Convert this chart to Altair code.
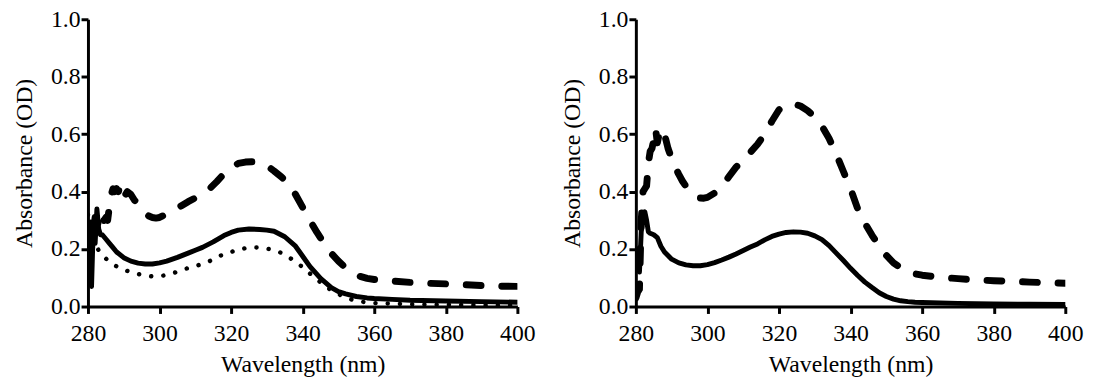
import altair as alt
import pandas as pd

# ---------------- data ----------------
# Left panel
L_solid_wl = [280, 280.5, 281, 281.3, 281.7, 282, 282.5, 283, 283.5, 284, 285, 286, 287, 288, 290,
              292, 294, 296, 298, 300, 302, 305, 308, 310, 312, 315, 318, 320, 322, 325, 328, 330,
              332, 335, 338, 340, 342, 345, 348, 350, 352, 355, 358, 360, 365, 370, 380, 390, 400]
L_solid_ab = [0.25, 0.27, 0.07, 0.2, 0.28, 0.22, 0.34, 0.27, 0.25, 0.25, 0.235, 0.22, 0.205, 0.19, 0.17,
              0.158, 0.151, 0.148, 0.148, 0.152, 0.158, 0.171, 0.186, 0.196, 0.206, 0.225, 0.247, 0.258,
              0.266, 0.270, 0.268, 0.266, 0.262, 0.243, 0.21, 0.175, 0.14, 0.098, 0.066, 0.052, 0.044,
              0.035, 0.03, 0.028, 0.025, 0.022, 0.019, 0.017, 0.015]

L_dot_wl = [280, 280.5, 281, 282, 283, 284, 285, 286, 288, 290, 292, 294, 296, 298, 300, 302, 304, 306,
            308, 310, 312, 314, 316, 318, 320, 322, 324, 326, 328, 330, 332, 334, 336, 338, 340, 342,
            344, 346, 348, 350, 352, 354, 356, 358, 360, 370, 380, 390, 400]
L_dot_ab = [0.32, 0.29, 0.26, 0.22, 0.195, 0.18, 0.167, 0.155, 0.14, 0.128, 0.12, 0.113, 0.108, 0.105,
            0.105, 0.11, 0.117, 0.126, 0.134, 0.141, 0.148, 0.158, 0.172, 0.182, 0.19, 0.198, 0.203,
            0.206, 0.205, 0.202, 0.196, 0.187, 0.173, 0.156, 0.137, 0.115, 0.094, 0.074, 0.057, 0.043,
            0.032, 0.023, 0.018, 0.014, 0.012, 0.008, 0.006, 0.005, 0.005]

L_dash_wl = [280, 280.5, 281, 281.5, 282, 282.5, 283, 283.5, 284, 284.5, 285, 285.5, 286, 286.5, 287,
             287.5, 288, 288.5, 289, 289.5, 290, 290.5, 291, 292, 293, 294, 295, 296, 297, 298, 299,
             300, 302, 304, 306, 308, 310, 312, 314, 316, 318, 320, 322, 324, 326, 328, 330, 332, 334,
             336, 338, 340, 342, 344, 346, 348, 350, 352, 354, 356, 358, 360, 365, 370, 375, 380, 385,
             390, 395, 400]
L_dash_ab = [0.24, 0.27, 0.3, 0.26, 0.31, 0.3, 0.28, 0.3, 0.32, 0.3, 0.31, 0.3, 0.35, 0.39, 0.41, 0.4,
             0.41, 0.4, 0.42, 0.43, 0.41, 0.39, 0.40, 0.39, 0.37, 0.36, 0.34, 0.325, 0.315, 0.31, 0.308,
             0.31, 0.322, 0.335, 0.35, 0.365, 0.378, 0.392, 0.41, 0.435, 0.462, 0.485, 0.498, 0.503,
             0.504, 0.498, 0.49, 0.472, 0.452, 0.428, 0.39, 0.345, 0.3, 0.258, 0.22, 0.185, 0.158,
             0.135, 0.117, 0.105, 0.098, 0.094, 0.089, 0.084, 0.081, 0.079, 0.076, 0.073, 0.071, 0.07]

# Right panel
R_solid_wl = [280, 280.5, 281, 281.5, 282, 282.5, 283, 283.5, 284, 285, 286, 287, 288, 290, 292, 294,
              296, 298, 300, 302, 304, 306, 308, 310, 312, 314, 316, 318, 320, 322, 324, 326, 328, 330,
              332, 334, 336, 338, 340, 342, 344, 346, 348, 350, 352, 354, 356, 358, 360, 370, 380, 390, 400]
R_solid_ab = [0.13, 0.2, 0.12, 0.26, 0.31, 0.33, 0.3, 0.26, 0.255, 0.25, 0.24, 0.21, 0.19, 0.165,
              0.152, 0.145, 0.142, 0.142, 0.146, 0.153, 0.162, 0.172, 0.183, 0.195, 0.207, 0.218, 0.232,
              0.244, 0.252, 0.258, 0.26, 0.259, 0.255, 0.246, 0.233, 0.212, 0.186, 0.16, 0.133, 0.108,
              0.085, 0.066, 0.048, 0.035, 0.026, 0.02, 0.017, 0.015, 0.014, 0.011, 0.009, 0.008, 0.007]

R_dash_wl = [280, 280.5, 281, 281.5, 282, 282.5, 283, 283.5, 284, 284.5, 285, 285.5, 286, 286.5, 287,
             287.5, 288, 289, 290, 291, 292, 293, 294, 295, 296, 297, 298, 299, 300, 302, 304, 306,
             308, 310, 312, 314, 316, 318, 320, 322, 324, 326, 328, 330, 332, 334, 336, 338, 340, 342,
             344, 346, 348, 350, 352, 354, 356, 358, 360, 365, 370, 375, 380, 385, 390, 395, 400]
R_dash_ab = [0.03, 0.05, 0.06, 0.3, 0.4, 0.41, 0.42, 0.5, 0.54, 0.55, 0.58, 0.62, 0.57, 0.6, 0.62, 0.61,
             0.6, 0.55, 0.515, 0.485, 0.46, 0.437, 0.418, 0.402, 0.39, 0.382, 0.378, 0.377, 0.38, 0.395,
             0.42, 0.452, 0.485, 0.512, 0.537, 0.565, 0.6, 0.645, 0.685, 0.702, 0.706, 0.698, 0.682,
             0.66, 0.628, 0.585, 0.53, 0.47, 0.41, 0.34, 0.29, 0.248, 0.21, 0.178, 0.152, 0.135, 0.122,
             0.114, 0.109, 0.102, 0.097, 0.093, 0.09, 0.088, 0.085, 0.083, 0.081]

x_ticks = [280, 300, 320, 340, 360, 380, 400]
y_ticks = [0.0, 0.2, 0.4, 0.6, 0.8, 1.0]

FONT = "Liberation Serif"
W, H = 435, 291


def frame(wl, ab):
    return pd.DataFrame({"wl": wl, "ab": ab})


def enc():
    return dict(
        x=alt.X("wl:Q", scale=alt.Scale(domain=[280, 400], nice=False, zero=False),
                axis=alt.Axis(values=x_ticks, title="Wavelength (nm)", format="d", labelFlush=False,
                              labelFont=FONT, titleFont=FONT, labelPadding=8, titlePadding=8)),
        y=alt.Y("ab:Q", scale=alt.Scale(domain=[0, 1], nice=False),
                axis=alt.Axis(values=y_ticks, title="Absorbance (OD)", format=".1f", labelFlush=False,
                              labelFont=FONT, titleFont=FONT, labelPadding=1, titlePadding=14)),
        order="wl:Q",
    )


def solid(df):
    return alt.Chart(df).mark_line(color="black", strokeWidth=5, strokeJoin="round",
                                   strokeCap="round", clip=True).encode(**enc())


def dashed(df):
    return alt.Chart(df).mark_line(color="black", strokeWidth=7, strokeCap="round",
                                   strokeJoin="round", strokeDash=[15, 21], clip=True).encode(**enc())


def dotted(df):
    return alt.Chart(df).mark_line(color="black", strokeWidth=4.5, strokeCap="round",
                                   strokeDash=[0.1, 12.3], clip=True).encode(**enc())


left = alt.layer(
    dotted(frame(L_dot_wl, L_dot_ab)),
    solid(frame(L_solid_wl, L_solid_ab)),
    dashed(frame(L_dash_wl, L_dash_ab)),
).properties(width=W, height=H)

right = alt.layer(
    solid(frame(R_solid_wl, R_solid_ab)),
    dashed(frame(R_dash_wl, R_dash_ab)),
).properties(width=W, height=H)

chart = alt.hconcat(left, right, spacing=26).properties(
    padding={"left": 5, "top": -3, "right": 5, "bottom": 0}
).configure_view(stroke=None).configure_axis(
    grid=False,
    domainColor="black", domainWidth=3,
    tickColor="black", tickWidth=3, tickSize=7,
    labelFont=FONT, labelFontSize=24, labelColor="black",
    titleFont=FONT, titleFontSize=24, titleFontWeight="normal", titleColor="black",
)

chart.save("out.html", embed_options={"renderer": "svg", "actions": False})
